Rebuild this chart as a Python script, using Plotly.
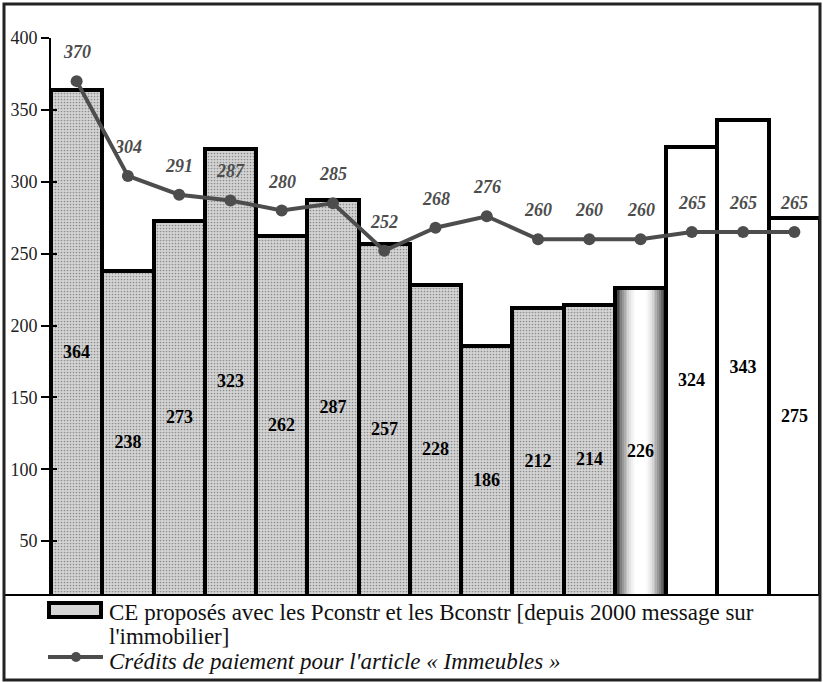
import plotly.graph_objects as go

# ---- data -------------------------------------------------------------
periodes = list(range(15))
ce_proposes = [364, 238, 273, 323, 262, 287, 257, 228, 186, 212, 214, 226, 324, 343, 275]
credits_paiement = [370, 304, 291, 287, 280, 285, 252, 268, 276, 260, 260, 260, 265, 265, 265]
y_ticks = [50, 100, 150, 200, 250, 300, 350, 400]

legend_bar = "CE proposés avec les Pconstr et les Bconstr [depuis 2000 message sur"
legend_bar_2 = "l'immobilier]"
legend_line = "Crédits de paiement pour l'article « Immeubles »"

# ---- layout geometry --------------------------------------------------
W, H = 823, 682
ML, MR, MT, MB = 51, 3, 38, 69
PW, PH = W - ML - MR, H - MT - MB
SERIF = "Liberation Serif, Times New Roman, serif"
LINE_GREY = "#4d4d4d"


def px_x(x):
    return (x - ML) / PW


def px_y(y):
    return (H - MB - y) / PH


# bar styling: dotted grey (realised), shaded highlight bar, white (planned)
GRADIENT_IDX = 11
bar_colors, bar_shapes = [], []
for i in range(len(periodes)):
    if i < GRADIENT_IDX:
        bar_colors.append("#d4d4d4")
        bar_shapes.append(".")
    elif i == GRADIENT_IDX:
        bar_colors.append("rgba(0,0,0,0)")
        bar_shapes.append("")
    else:
        bar_colors.append("white")
        bar_shapes.append("")

fig = go.Figure()

# cylinder shading of the highlighted bar: nested bars, dark edges -> white core
shade_widths = [1.0, 0.93, 0.86, 0.79, 0.72, 0.65, 0.58, 0.51, 0.44, 0.37, 0.30, 0.22]
shade_levels = [40, 70, 100, 128, 152, 174, 194, 212, 228, 240, 249, 255]
for w, g in zip(shade_widths, shade_levels):
    fig.add_trace(go.Bar(
        x=[periodes[GRADIENT_IDX]], y=[ce_proposes[GRADIENT_IDX]], width=w,
        marker=dict(color=f"rgb({g},{g},{g})", line=dict(width=0)),
        hoverinfo="skip", showlegend=False,
    ))

fig.add_trace(go.Bar(
    x=periodes, y=ce_proposes, width=1,
    marker=dict(
        color=bar_colors,
        line=dict(color="black", width=4),
        pattern=dict(shape=bar_shapes, fillmode="overlay", fgcolor="#e8e8e8",
                     size=3, solidity=0.25),
    ),
    text=[str(v) for v in ce_proposes],
    textposition="inside", insidetextanchor="middle", textangle=0,
    textfont=dict(family=SERIF, size=18, color="black", weight="bold"),
    showlegend=False, name=legend_bar,
))

fig.add_trace(go.Scatter(
    x=periodes, y=credits_paiement, mode="lines+markers", yaxis="y2",
    line=dict(color=LINE_GREY, width=4),
    marker=dict(color=LINE_GREY, size=12),
    showlegend=False, name=legend_line,
))

annotations = []
for xv, yv in zip(periodes, credits_paiement):
    annotations.append(dict(
        x=xv, y=yv, xref="x", yref="y2", text=f"<b><i>{yv}</i></b>", showarrow=False,
        yshift=29, font=dict(family=SERIF, size=18, color=LINE_GREY),
    ))

# hand-built legend box
shapes = [
    dict(type="rect", xref="paper", yref="paper", layer="above",
         x0=px_x(4), x1=px_x(820), y0=px_y(680), y1=px_y(595),
         fillcolor="white", line=dict(color="black", width=2)),
    dict(type="rect", xref="paper", yref="paper", layer="above",
         x0=px_x(49), x1=px_x(101), y0=px_y(617), y1=px_y(603),
         fillcolor="#d6d6d6", line=dict(color="black", width=4)),
    dict(type="line", xref="paper", yref="paper", layer="above",
         x0=px_x(48), x1=px_x(103), y0=px_y(657), y1=px_y(657),
         line=dict(color=LINE_GREY, width=4)),
    dict(type="circle", xref="paper", yref="paper", layer="above",
         x0=px_x(71), x1=px_x(81), y0=px_y(662), y1=px_y(652),
         fillcolor=LINE_GREY, line=dict(color=LINE_GREY, width=0)),
    # outer frame
    dict(type="rect", xref="paper", yref="paper", layer="above",
         x0=px_x(4), x1=px_x(820), y0=px_y(680), y1=px_y(4),
         line=dict(color="#222222", width=3)),
]

for txt, yc in [(legend_bar, 612), (legend_bar_2, 636.5), ("<i>" + legend_line + "</i>", 661)]:
    annotations.append(dict(
        x=px_x(107), y=px_y(yc), xref="paper", yref="paper", text=txt,
        showarrow=False, xanchor="left", yanchor="middle",
        font=dict(family=SERIF, size=23, color="#111111"),
    ))

fig.update_layout(
    width=W, height=H,
    margin=dict(l=ML, r=MR, t=MT, b=MB, pad=0),
    paper_bgcolor="white", plot_bgcolor="white",
    barmode="overlay", bargap=0,
    xaxis=dict(range=[-0.5, 14.5], showticklabels=False, ticks="", showgrid=False,
               zeroline=False, showline=False),
    yaxis=dict(range=[0, 400], tickvals=y_ticks, ticks="outside", ticklen=8, tickwidth=2,
               tickcolor="black", showline=True, linecolor="black", linewidth=2,
               showgrid=False, zeroline=False,
               tickfont=dict(family=SERIF, size=18, color="#222222")),
    yaxis2=dict(range=[0, 400], overlaying="y", side="left", tickvals=y_ticks,
                ticks="inside", ticklen=6, tickwidth=2, tickcolor="black",
                showticklabels=False, showgrid=False, zeroline=False, showline=False),
    shapes=shapes,
    annotations=annotations,
    showlegend=False,
)

fig.write_html("out.html")
